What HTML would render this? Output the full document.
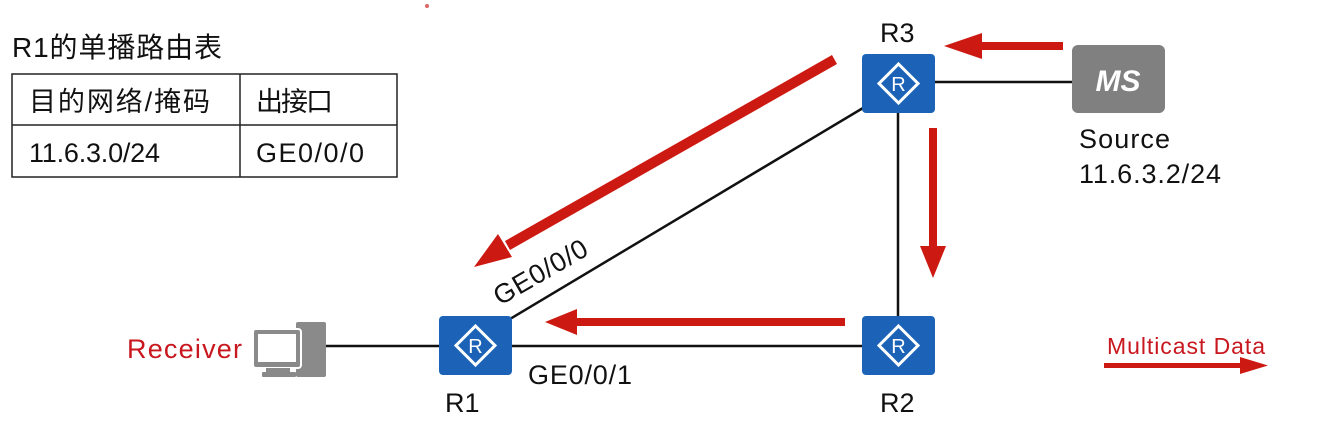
<!DOCTYPE html>
<html><head><meta charset="utf-8"><style>
body{margin:0;background:#fff;width:1335px;height:432px;overflow:hidden;font-family:"Liberation Sans","Noto Sans CJK SC",sans-serif;}
</style></head><body>
<svg width="1335" height="432" xmlns="http://www.w3.org/2000/svg" style="position:absolute;left:0;top:0">
<defs>
<g id="r"><rect x="0" y="0" width="73" height="59" rx="4" fill="#1c63b7"/>
<polygon points="36.5,10 56,29.5 36.5,49 17,29.5" fill="none" stroke="#fff" stroke-width="3"/>
<text x="36.5" y="37" font-size="20" fill="#fff" text-anchor="middle" font-family="Liberation Sans">R</text></g>
</defs>
<text x="12" y="57" font-size="28" fill="#111" font-family="Liberation Sans,Noto Sans CJK SC,sans-serif" textLength="210">R1的单播路由表</text>
<rect x="12" y="74" width="385" height="103" fill="none" stroke="#222" stroke-width="1.5"/>
<line x1="12" y1="125" x2="397" y2="125" stroke="#222" stroke-width="1.5"/>
<line x1="240" y1="74" x2="240" y2="177" stroke="#222" stroke-width="1.5"/>
<g font-size="27" fill="#111" font-family="Liberation Sans,Noto Sans CJK SC,sans-serif">
<text x="29" y="111" textLength="181">目的网络/掩码</text><text x="256" y="111" textLength="77">出接口</text>
<text x="29" y="162" textLength="131">11.6.3.0/24</text><text x="256" y="162" textLength="108">GE0/0/0</text></g>
<g stroke="#111" stroke-width="2.5">
<line x1="325" y1="346" x2="440" y2="346"/>
<line x1="512" y1="346" x2="862" y2="346"/>
<line x1="505" y1="322" x2="868" y2="105"/>
<line x1="898" y1="113" x2="898" y2="316"/>
<line x1="934" y1="82" x2="1072" y2="82"/>
</g>
<use href="#r" x="862" y="54"/><use href="#r" x="439" y="316"/><use href="#r" x="862" y="316"/>
<rect x="1072" y="45" width="93" height="68" rx="6" fill="#808080"/>
<text x="1118" y="91" font-size="30" font-weight="bold" font-style="italic" fill="#fff" text-anchor="middle">MS</text>
<g fill="#8a8a8a"><rect x="296" y="322" width="30" height="55" rx="2"/>
<rect x="253" y="329" width="48" height="39" rx="3" stroke="#fff" stroke-width="2"/><rect x="258" y="334" width="38" height="28" fill="#fff"/>
<rect x="266" y="368" width="24" height="5"/><rect x="262" y="372" width="34" height="5" rx="1"/></g>
<g font-size="27" fill="#111">
<text x="880" y="42">R3</text><text x="445" y="412">R1</text><text x="880" y="412">R2</text>
<text x="1079" y="148" textLength="91">Source</text><text x="1079" y="183" textLength="142">11.6.3.2/24</text>
<text x="528" y="384" textLength="104">GE0/0/1</text>
<text x="0" y="0" transform="translate(500,306) rotate(-30)" textLength="104">GE0/0/0</text></g>
<text x="127" y="358" font-size="27" fill="#c8171e" textLength="115">Receiver</text>
<text x="1107" y="354" font-size="23" fill="#c8171e" textLength="158">Multicast Data</text>
<g fill="#cc1a12" stroke="none">
<rect x="976" y="42" width="87" height="8"/><polygon points="944,46 982,33 982,59"/>
<rect x="929" y="128" width="8" height="120"/><polygon points="933,278 920,246 946,246"/>
<rect x="572" y="318" width="273" height="8"/><polygon points="545,322 577,309 577,335"/>
<polygon points="832,55 837,64 510,250 505,241"/><polygon points="474,267 498,234 512,257"/>
<rect x="1104" y="363" width="140" height="5"/><polygon points="1268,365.5 1240,357 1240,374"/>
</g>
<circle cx="427" cy="6" r="2" fill="#d66"/>
</svg>
</body></html>
